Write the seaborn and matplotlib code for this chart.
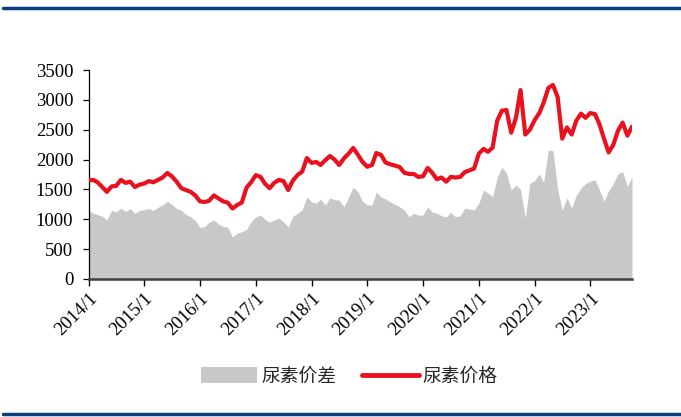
import matplotlib
matplotlib.use("Agg")
import matplotlib.pyplot as plt
import matplotlib.dates as mdates
from matplotlib.lines import Line2D
from matplotlib.patches import Patch
import seaborn as sns
import pandas as pd
import numpy as np

# ---- data (monthly) ----
start_month = "2014-01-01"
price = [1650, 1660, 1620, 1540, 1460, 1550, 1560, 1660, 1610, 1630, 1540, 1580,
         1600, 1640, 1620, 1660, 1700, 1775, 1720, 1630, 1520, 1490, 1460, 1400,
         1300, 1290, 1310, 1400, 1350, 1300, 1280, 1180, 1240, 1280, 1530, 1620,
         1740, 1710, 1600, 1520, 1610, 1660, 1640, 1490, 1650, 1740, 1800, 2025,
         1945, 1960, 1910, 1990, 2060, 2000, 1910, 2020, 2100, 2195, 2080, 1960,
         1880, 1910, 2110, 2080, 1950, 1920, 1900, 1875, 1780, 1760, 1760, 1710,
         1720, 1860, 1780, 1670, 1700, 1630, 1710, 1700, 1710, 1790, 1820, 1850,
         2100, 2180, 2130, 2200, 2650, 2820, 2830, 2450, 2700, 3165, 2420, 2500,
         2660, 2780, 2950, 3200, 3250, 3050, 2350, 2540, 2420, 2650, 2770, 2700,
         2780, 2760, 2600, 2350, 2120, 2250, 2480, 2620, 2400, 2550]
spread = [1150, 1100, 1080, 1050, 990, 1150, 1120, 1190, 1130, 1180, 1100, 1150,
          1160, 1180, 1150, 1200, 1240, 1300, 1250, 1180, 1150, 1080, 1040, 980,
          860, 880, 950, 990, 920, 880, 870, 700, 770, 790, 830, 960,
          1040, 1070, 1000, 950, 990, 1020, 960, 870, 1050, 1100, 1160, 1375,
          1290, 1270, 1340, 1240, 1357, 1330, 1320, 1210, 1375, 1540, 1457, 1300,
          1240, 1240, 1457, 1375, 1340, 1290, 1250, 1210, 1155, 1040, 1100, 1070,
          1070, 1206, 1120, 1100, 1060, 1040, 1120, 1040, 1060, 1190, 1170, 1155,
          1270, 1490, 1440, 1380, 1700, 1875, 1775, 1490, 1575, 1500, 1020, 1600,
          1650, 1760, 1620, 2160, 2150, 1500, 1155, 1357, 1190, 1400, 1520, 1600,
          1640, 1660, 1500, 1300, 1480, 1600, 1760, 1800, 1550, 1710]
y_ticks = [0, 500, 1000, 1500, 2000, 2500, 3000, 3500]
tick_years = list(range(2014, 2024))
label_spread = "尿素价差"
label_price = "尿素价格"

dates = pd.date_range(start_month, periods=len(price), freq="MS")
df = pd.DataFrame({"date": dates, "price": price, "spread": spread})

sns.set_style("ticks")
plt.rcParams["font.family"] = ["Liberation Serif", "Noto Sans CJK SC", "DejaVu Sans"]

fig = plt.figure(figsize=(6.81, 4.17), dpi=100)
ax = fig.add_axes([0.130, 0.331, 0.798, 0.501])

gray = "#c8c8c8"
red = "#e8111d"

ax.fill_between(df["date"], 0, df["spread"], color=gray, linewidth=0, zorder=1)
sns.lineplot(data=df, x="date", y="price", color=red, linewidth=3.0, ax=ax, zorder=3)

ax.set_ylim(0, 3500)
ax.set_yticks(y_ticks)
ax.set_xlim(dates[0], dates[-1])
ax.set_xticks([pd.Timestamp(f"{y}-01-01") for y in tick_years])
ax.xaxis.set_major_formatter(mdates.DateFormatter("%Y/%-m"))
ax.set_xlabel("")
ax.set_ylabel("")

for s in ["top", "right"]:
    ax.spines[s].set_visible(False)
ax.spines["left"].set_color("black")
ax.spines["left"].set_linewidth(0.9)
ax.spines["bottom"].set_color("#404040")
ax.spines["bottom"].set_linewidth(1.8)
ax.spines["bottom"].set_zorder(4)

ax.tick_params(axis="y", direction="out", length=4, width=0.9, labelsize=13.5, pad=7, colors="black")
ax.tick_params(axis="x", direction="out", length=5, width=1.0, labelsize=13.5, pad=3, colors="black")
for lbl in ax.get_xticklabels():
    lbl.set_rotation(45)
    lbl.set_ha("right")
    lbl.set_rotation_mode("anchor")

handles = [Patch(facecolor=gray, edgecolor="none", label=label_spread),
           Line2D([0], [0], color=red, linewidth=3.5, label=label_price)]
leg = fig.legend(handles=handles, loc="center", bbox_to_anchor=(0.513, 0.098), ncol=2,
                 frameon=False, handlelength=3.0, handleheight=0.9, handletextpad=0.2,
                 columnspacing=1.4, prop={"family": ["Noto Sans CJK SC", "DejaVu Sans"], "size": 13.5})

blue = "#0a3f80"
fig.add_artist(Line2D([0.004, 1.0], [0.981, 0.981], color=blue, linewidth=2.5, transform=fig.transFigure))
fig.add_artist(Line2D([0.004, 1.0], [0.007, 0.007], color=blue, linewidth=2.5, transform=fig.transFigure))

fig.savefig("out.png", dpi=100)
